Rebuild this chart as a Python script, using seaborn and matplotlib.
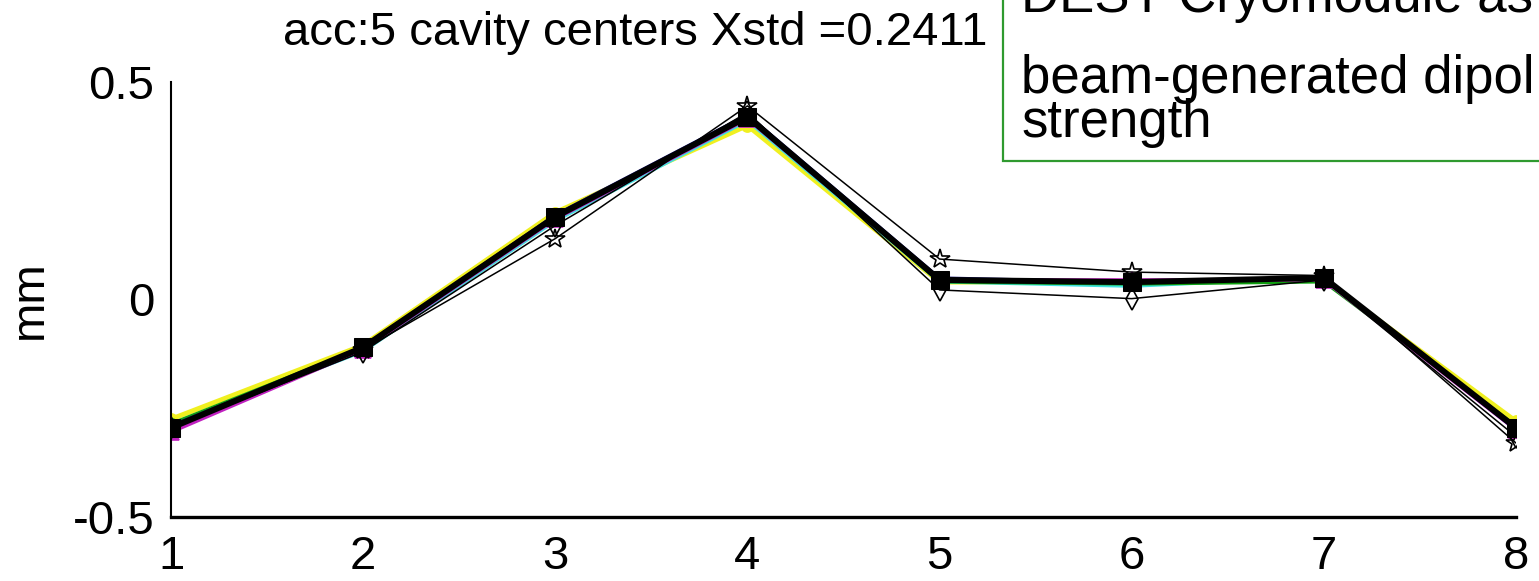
import matplotlib
matplotlib.use("Agg")
import matplotlib.pyplot as plt
import seaborn as sns
import pandas as pd
from matplotlib.patches import Rectangle

# ---- data ----
elements = [1, 2, 3, 4, 5, 6, 7, 8]
run_yellow = [-0.275, -0.105, 0.200, 0.400, 0.040, 0.040, 0.045, -0.280]
run_cyan = [-0.290, -0.120, 0.180, 0.410, 0.040, 0.030, 0.050, -0.300]
run_green = [-0.285, -0.110, 0.190, 0.420, 0.040, 0.035, 0.040, -0.290]
run_magenta = [-0.305, -0.115, 0.185, 0.415, 0.045, 0.045, 0.045, -0.300]
run_blue = [-0.290, -0.110, 0.195, 0.425, 0.050, 0.040, 0.050, -0.300]
run_star = [-0.290, -0.115, 0.140, 0.445, 0.093, 0.063, 0.055, -0.330]
run_diamond = [-0.295, -0.120, 0.170, 0.430, 0.022, 0.002, 0.045, -0.315]
run_main = [-0.295, -0.110, 0.190, 0.420, 0.045, 0.040, 0.050, -0.295]

title_text = "acc:5 cavity centers Xstd =0.2411"
box_lines = ["DESY Cryomodule as", "beam-generated dipol", "strength"]
ylabel_text = "mm"

sns.set_style("white")
plt.rcParams["font.family"] = ["Liberation Sans", "DejaVu Sans"]
plt.rcParams["text.color"] = "black"
plt.rcParams["axes.labelcolor"] = "black"
plt.rcParams["xtick.color"] = "black"
plt.rcParams["ytick.color"] = "black"

W, H = 1539, 581
fig = plt.figure(figsize=(W / 100, H / 100), dpi=100)
ax = fig.add_axes([171 / W, 1 - 517 / H, (1516 - 171) / W, (517 - 82) / H])

series = [
    (run_yellow, "#f0f020", "o", 3.5, 8),
    (run_cyan, "#40e0e0", "o", 2.0, 6),
    (run_green, "#10a010", "o", 2.0, 7),
    (run_magenta, "#c020c0", "^", 2.5, 11),
    (run_blue, "#101070", "x", 2.0, 8),
    (run_star, "black", "*", 1.1, 15),
    (run_diamond, "black", "d", 1.1, 11),
]
for vals, col, mk, lw, ms in series:
    df = pd.DataFrame({"x": elements, "y": vals})
    sns.lineplot(data=df, x="x", y="y", ax=ax, color=col, lw=lw, marker=mk,
                 ms=ms, mec=col, mfc="none" if col == "black" else col,
                 mew=1.2, zorder=2)

df_main = pd.DataFrame({"x": elements, "y": run_main})
sns.lineplot(data=df_main, x="x", y="y", ax=ax, color="black", lw=4.3,
             marker="s", ms=13, mec="black", mfc="black", zorder=4)

ax.set_xlim(1, 8)
ax.set_ylim(-0.5, 0.5)
ax.set_xticks(elements)
ax.set_xticklabels([str(e) for e in elements])
ax.set_yticks([-0.5, 0, 0.5])
ax.set_yticklabels(["-0.5", "0", "0.5"])
ax.set_xlabel("")
ax.set_ylabel("")

for s in ["top", "right"]:
    ax.spines[s].set_visible(False)
ax.spines["bottom"].set_linewidth(2.4)
ax.spines["left"].set_linewidth(1.5)
ax.spines["bottom"].set_color("black")
ax.spines["left"].set_color("black")
ax.tick_params(axis="x", direction="in", length=10, width=1.2, pad=13,
               labelsize=34, colors="black")
ax.tick_params(axis="y", direction="in", length=9, width=1.2, pad=12,
               labelsize=34, colors="black")
ax.set_facecolor("white")
ax.grid(False)

fig.text(30 / W, 1 - 300 / H, ylabel_text, fontsize=34, rotation=90,
         ha="center", va="center", color="black")
fig.text(283 / W, 1 - 33 / H, title_text, fontsize=34, ha="left",
         va="center", color="black")

rect = Rectangle((1003 / W, 1 - 161 / H), (W - 1003 + 20) / W, 200 / H,
                 transform=fig.transFigure, facecolor="white",
                 edgecolor="#2f9a2f", lw=1.6, zorder=5)
fig.patches.append(rect)
baselines = [12, 93, 137]
for line, b in zip(box_lines, baselines):
    fig.text(1021 / W, 1 - b / H, line, fontsize=38, ha="left",
             va="baseline", zorder=6, color="black")

fig.savefig("out.png", dpi=100, facecolor="white")
